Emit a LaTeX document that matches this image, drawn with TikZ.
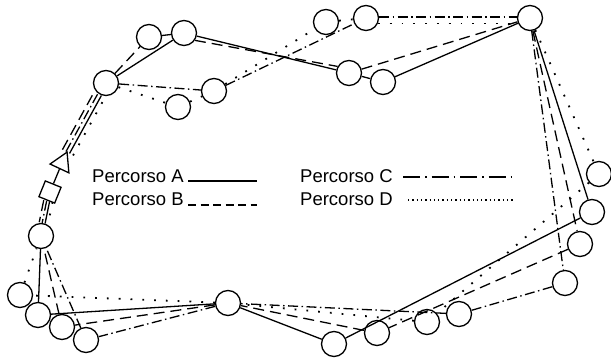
\documentclass[tikz,border=0pt]{standalone}
\usepackage{fontspec}
\setmainfont{Liberation Sans}
\usetikzlibrary{shapes.geometric}
\begin{document}
\begin{tikzpicture}[x=1pt,y=-1pt,
  stn/.style={circle,draw,line width=1.35pt,minimum size=25pt,inner sep=0pt},
  pA/.style={line width=1.3pt},
  pB/.style={line width=1.3pt,dash pattern=on 11pt off 6pt},
  pC/.style={line width=1.3pt,dash pattern=on 10pt off 3.5pt on 1.5pt off 3.5pt},
  pD/.style={line width=1.8pt,dash pattern=on 1.8pt off 10pt},
  lA/.style={line width=1.1pt},
  lB/.style={line width=1.1pt,dash pattern=on 8pt off 4.5pt},
  lC/.style={line width=1.1pt,dash pattern=on 17pt off 5pt on 1.5pt off 5pt},
  lD/.style={line width=1.3pt,dash pattern=on 1.3pt off 3pt},
  lbl/.style={font=\fontsize{18.5}{20}\selectfont,anchor=base west,inner sep=0pt},
  sB/.style={transform canvas={shift={(-5.3pt,2.9pt)}}},
  sC/.style={transform canvas={shift={(-1.76pt,0.95pt)}}},
  sA/.style={transform canvas={shift={(1.76pt,-0.95pt)}}},
  sD/.style={transform canvas={shift={(5.3pt,-2.9pt)}}},
  qB/.style={transform canvas={shift={(-4.4pt,0.9pt)}}},
  qC/.style={transform canvas={shift={(-1.47pt,0.3pt)}}},
  qA/.style={transform canvas={shift={(1.47pt,-0.3pt)}}},
  qD/.style={transform canvas={shift={(4.4pt,-0.9pt)}}}
]
\useasboundingbox (0,0) rectangle (611,361);
% stations
\node[stn] (c1) at (149,37) {};
\node[stn] (c2) at (184,33) {};
\node[stn] (c3) at (106,83) {};
\node[stn] (c4) at (214,91) {};
\node[stn] (c5) at (178,107) {};
\node[stn] (c6) at (326,22) {};
\node[stn] (c7) at (366,18) {};
\node[stn] (c8) at (530,18) {};
\node[stn] (c9) at (349,73) {};
\node[stn] (c10) at (383,82) {};
\node[stn] (c11) at (599,174) {};
\node[stn] (c12) at (592,212) {};
\node[stn] (c13) at (580,244) {};
\node[stn] (c14) at (565,283) {};
\node[stn] (c15) at (459,314) {};
\node[stn] (c16) at (427,322) {};
\node[stn] (c17) at (377,333) {};
\node[stn] (c18) at (334,344) {};
\node[stn] (c19) at (41,236) {};
\node[stn] (c20) at (20,295) {};
\node[stn] (c21) at (38,315) {};
\node[stn] (c22) at (62,327) {};
\node[stn] (c23) at (86,340) {};
\node[stn] (c24) at (228,303) {};
\node[draw,line width=1.3pt,minimum size=17pt,inner sep=0pt,rotate=-22] (sq) at (50,192) {};
\node[draw,regular polygon,regular polygon sides=3,minimum size=24pt,inner sep=0pt,line width=1.3pt,rotate=-25] (tri) at (62,163) {};
\draw[pA] (sq) -- (tri);
% bundles at depot
\draw[pB,sB] (tri) -- (c3);
\draw[pC,sC] (tri) -- (c3);
\draw[pA,sA] (tri) -- (c3);
\draw[pD,sD] (tri) -- (c3);
\draw[pB,qB] (sq) -- (c19);
\draw[pC,qC] (sq) -- (c19);
\draw[pA,qA] (sq) -- (c19);
\draw[pD,qD] (sq) -- (c19);
% Percorso A
\draw[pA] (c3) -- (c2);
\draw[pA] (c2) -- (c9);
\draw[pA] (c9) -- (c10);
\draw[pA] (c10) -- (c8);
\draw[pA] (c8) -- (c12);
\draw[pA] (c12) -- (c18);
\draw[pA] (c18) -- (c24);
\draw[pA] (c24) -- (c21);
\draw[pA] (c21) -- (c19);
% Percorso B
\draw[pB] (c3) -- (c1);
\draw[pB] (c1) -- (c2);
\draw[pB] (c2.-34) -- (c9.150);
\draw[pB] (c9) -- (c8);
\draw[pB] (c8) -- (c13);
\draw[pB] (c13) -- (c17);
\draw[pB] (c17) -- (c24);
\draw[pB] (c24) -- (c22);
\draw[pB] (c22) -- (c19);
% Percorso C
\draw[pC] (c3) -- (c4);
\draw[pC] (c4) -- (c7);
\draw[pC] (c7.5) -- (c8.175);
\draw[pC] (c8) -- (c14);
\draw[pC] (c14) -- (c15);
\draw[pC] (c15) -- (c24);
\draw[pC] (c24) -- (c23);
\draw[pC] (c23) -- (c19);
% Percorso D
\draw[pD] (c3) -- (c5);
\draw[pD] (c5) -- (c4);
\draw[pD] (c4) -- (c6);
\draw[pD] (c6) -- (c7);
\draw[pD] (c7.-25) -- (c8.205);
\draw[pD] (c8) -- (c11);
\draw[pD] (c11) -- (c16);
\draw[pD] (c16) -- (c24);
\draw[pD] (c24) -- (c20);
\draw[pD] (c20) -- (c19);
% legend
\node[lbl] (tA) at (92,182) {Percorso A};
\node[lbl] (tB) at (92,205) {Percorso B};
\node[lbl] (tC) at (300,182) {Percorso C};
\node[lbl] (tD) at (300,205) {Percorso D};
\coordinate (a1) at (188,181); \coordinate (a2) at (257,181);
\coordinate (b1) at (188,205); \coordinate (b2) at (257,205);
\coordinate (k1) at (403,177); \coordinate (k2) at (515,177);
\coordinate (d1) at (408,200); \coordinate (d2) at (515,200);
\draw[lA] (a1) -- (a2);
\draw[lB] (b1) -- (b2);
\draw[lC] (k1) -- (k2);
\draw[lD] (d1) -- (d2);
\end{tikzpicture}
\end{document}
